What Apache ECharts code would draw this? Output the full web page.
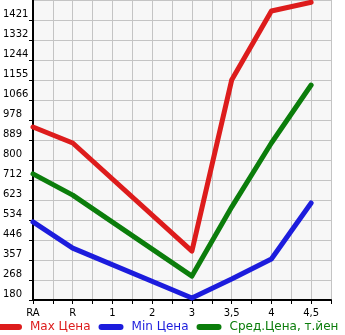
<!DOCTYPE html>
<html>
<head>
<meta charset="utf-8">
<script src="https://cdn.jsdelivr.net/npm/echarts@6/dist/echarts.min.js"></script>
<style>html,body{margin:0;padding:0;background:#fff}#c{width:345px;height:335px}</style>
</head>
<body>
<div id="c"></div>
<script>
var categories = ['RA', 'R', '1', '2', '3', '3,5', '4', '4,5'];
var maxPrice = [947, 876, null, null, 397, 1155, 1461, 1500];
var minPrice = [526, 410, null, null, 189, 273, 362, 610];
var avgPrice = [739, 645, null, null, 286, 592, 876, 1133];
var yTickLabels = ['180', '268', '357', '446', '534', '623', '712', '800', '889', '978', '1066', '1155', '1244', '1332', '1421', '1510'];
var seriesNames = ['Max Цена', 'Min Цена', 'Сред.Цена, т.йен'];
var colors = ['#dd1c1c', '#1c1cdd', '#0b7d0b'];

var yMin = 180, yMax = 1510;
var yStep = (yMax - yMin) / (yTickLabels.length - 1);

function toData(arr) {
  return arr.map(function (v, i) { return [i, v]; });
}

var chart = echarts.init(document.getElementById('c'), null, {renderer: 'canvas'});
var font = 'DejaVu Sans';
var icon = 'path://M3,0 L22,0 A3,3 0 0 1 22,6 L3,6 A3,3 0 0 1 3,0 Z';

chart.setOption({
  animation: false,
  grid: {left: 31, right: 14, top: 0, bottom: 35, show: true, backgroundColor: '#f7f7f7', borderWidth: 0},
  legend: {
    left: -3, top: 321, itemWidth: 25, itemHeight: 6, itemGap: 8, padding: 0,
    data: seriesNames.map(function (n, i) {
      return {name: n, icon: icon, itemStyle: {color: colors[i]}, textStyle: {color: colors[i]}};
    }),
    textStyle: {fontFamily: font, fontSize: 12, padding: [0, 0, 0, 3]}
  },
  xAxis: {
    type: 'value', min: 0, max: 7.5, interval: 0.5,
    axisLine: {lineStyle: {color: '#000', width: 2}},
    axisTick: {show: true, length: 4, lineStyle: {color: '#000', width: 1}},
    splitLine: {show: true, lineStyle: {color: '#c4c4c4', width: 1}},
    axisLabel: {
      margin: 8, color: '#000', fontFamily: font, fontSize: 10,
      formatter: function (v) {
        var r = Math.round(v * 2) / 2;
        return Number.isInteger(r) ? (categories[r] || '') : '';
      }
    }
  },
  yAxis: {
    type: 'value', min: yMin, max: yMax, interval: yStep,
    axisLine: {show: true, lineStyle: {color: '#000', width: 2}},
    axisTick: {show: true, length: 4, lineStyle: {color: '#000', width: 1}},
    splitLine: {show: true, lineStyle: {color: '#c4c4c4', width: 1}},
    axisLabel: {
      showMaxLabel: false, align: 'left', verticalAlign: 'bottom', margin: 30,
      color: '#000', fontFamily: font, fontSize: 10, lineHeight: 11,
      formatter: function (v) {
        var i = Math.round((v - yMin) / yStep);
        return yTickLabels[i] || '';
      }
    }
  },
  series: [
    {name: seriesNames[0], data: toData(maxPrice)},
    {name: seriesNames[1], data: toData(minPrice)},
    {name: seriesNames[2], data: toData(avgPrice)}
  ].map(function (s, i) {
    return {
      name: s.name, type: 'line', data: s.data, connectNulls: true,
      showSymbol: false, symbol: 'none', clip: false,
      lineStyle: {color: colors[i], width: 5, cap: 'round', join: 'round'},
      itemStyle: {color: colors[i]}
    };
  })
});
</script>
</body>
</html>
